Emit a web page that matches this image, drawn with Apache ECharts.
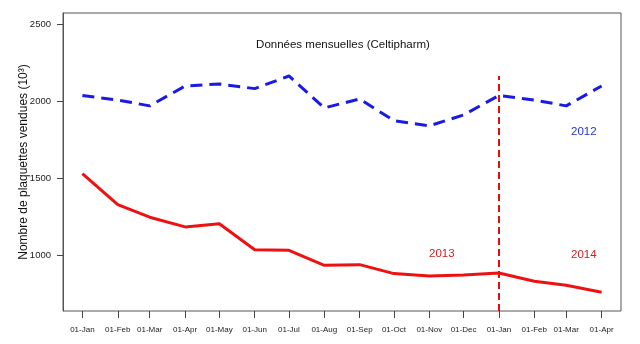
<!DOCTYPE html>
<html>
<head>
<meta charset="utf-8">
<script src="https://cdn.jsdelivr.net/npm/echarts@6/dist/echarts.min.js"></script>
<style>html,body{margin:0;padding:0;background:#fff}#c{width:640px;height:344px}</style>
</head>
<body>
<div id="c"></div>
<script>
const dates = ['2013-01-01','2013-02-01','2013-03-01','2013-04-01','2013-05-01','2013-06-01','2013-07-01','2013-08-01','2013-09-01','2013-10-01','2013-11-01','2013-12-01','2014-01-01','2014-02-01','2014-03-01','2014-04-01'];
const monthNames = ['Jan','Feb','Mar','Apr','May','Jun','Jul','Aug','Sep','Oct','Nov','Dec'];
const series2012 = [2035, 2006, 1968, 2097, 2110, 2080, 2162, 1955, 2013, 1872, 1838, 1909, 2035, 2006, 1968, 2097];
const series2013 = [1528, 1327, 1245, 1182, 1203, 1034, 1030, 933, 937, 879, 864, 870, 883, 829, 803, 758];
const yTicks = [1000, 1500, 2000, 2500];
const yMin = 636, yMax = 2571;
const splitDate = '2014-01-01';
const splitTop = 2162;
const xMin = '2012-12-15', xMax = '2014-04-18';

const DAY = 86400000;
const ts = d => { const [y,m,dd] = d.split('-').map(Number); return Date.UTC(y, m-1, dd) / DAY; };
const tickVals = dates.map(ts);

const chart = echarts.init(document.getElementById('c'));
chart.setOption({
  animation: false,
  backgroundColor: '#fff',
  title: {
    text: 'Données mensuelles (Celtipharm)',
    left: 338, top: 34, textAlign: 'center',
    textStyle: {fontFamily: 'Liberation Sans', fontSize: 11.5, fontWeight: 'normal', color: '#111'}
  },
  grid: {left: 63, right: 19, top: 13, bottom: 33, show: true, borderColor: '#555', borderWidth: 1},
  xAxis: {
    type: 'value', min: ts(xMin), max: ts(xMax),
    axisLine: {show: false},
    splitLine: {show: false},
    axisTick: {show: true, customValues: tickVals, length: 7, lineStyle: {color: '#444'}},
    axisLabel: {
      customValues: tickVals, margin: 15, hideOverlap: false,
      fontFamily: 'Liberation Sans', fontSize: 8, color: '#222',
      formatter: v => { const d = new Date(v * DAY); return String(d.getUTCDate()).padStart(2,'0') + '-' + monthNames[d.getUTCMonth()]; }
    }
  },
  yAxis: {
    type: 'value', min: yMin, max: yMax,
    name: 'Nombre de plaquettes vendues (10³)', nameLocation: 'middle', nameRotate: 90, nameGap: 33,
    nameMoveOverlap: false,
    nameTextStyle: {fontFamily: 'Liberation Sans', fontSize: 12, color: '#111'},
    axisLine: {show: true, lineStyle: {color: '#555'}},
    splitLine: {show: false},
    axisTick: {show: true, customValues: yTicks, length: 6, lineStyle: {color: '#444'}},
    axisLabel: {customValues: yTicks, margin: 12, fontFamily: 'Liberation Sans', fontSize: 9.5, color: '#222', formatter: v => String(v)}
  },
  series: [
    {
      type: 'line', name: '2012', data: dates.map((d,i) => [ts(d), series2012[i]]),
      symbol: 'none', lineStyle: {color: '#1a1ae8', width: 3, type: [12, 7]}
    },
    {
      type: 'line', name: '2013', data: dates.map((d,i) => [ts(d), series2013[i]]),
      symbol: 'none', lineStyle: {color: '#ee1111', width: 3},
      markLine: {
        symbol: 'none', silent: true, label: {show: false},
        lineStyle: {color: '#dd1111', width: 2, type: [7, 4]},
        data: [[{coord: [ts(splitDate), yMin]}, {coord: [ts(splitDate), splitTop]}]]
      }
    }
  ],
  graphic: [
    {type: 'text', left: 571, top: 126, style: {text: '2012', fill: '#2233cc', font: '11.5px "Liberation Sans"'}},
    {type: 'text', left: 429, top: 248, style: {text: '2013', fill: '#cc2222', font: '11.5px "Liberation Sans"'}},
    {type: 'text', left: 571, top: 249, style: {text: '2014', fill: '#cc2222', font: '11.5px "Liberation Sans"'}}
  ]
});
</script>
</body>
</html>
